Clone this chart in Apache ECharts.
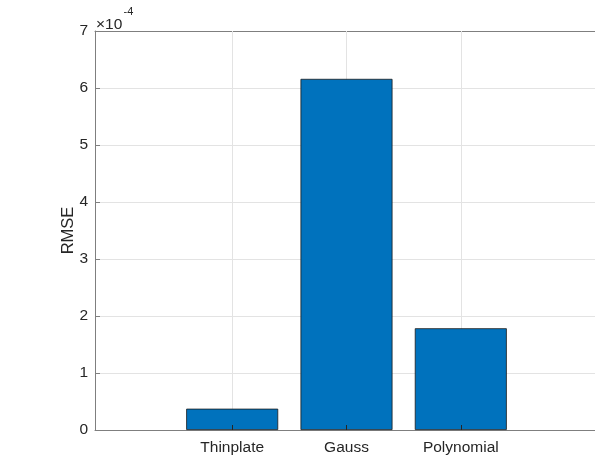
<!DOCTYPE html>
<html>
<head>
<meta charset="utf-8">
<script src="https://cdn.jsdelivr.net/npm/echarts@6/dist/echarts.min.js"></script>
<style>
html,body{margin:0;padding:0;background:#fff;}
#c{width:595px;height:455px;}
</style>
</head>
<body>
<div id="c"></div>
<script>
// Data
var categories = ['Thinplate', 'Gauss', 'Polynomial'];
var rmse = [0.374e-4, 6.16e-4, 1.785e-4];
var yTicks = [0, 1, 2, 3, 4, 5, 6, 7]; // in units of 1e-4
var yScale = 1e-4;

var positions = categories.map(function (c, i) { return i + 1; });
var barData = categories.map(function (c, i) { return [positions[i], rmse[i]]; });

var FONT = 'Arial, "Liberation Sans", Helvetica, sans-serif';
var TXT = '#262626';
var AX = '#7f7f7f';
var GRID = '#e3e3e3';

var chart = echarts.init(document.getElementById('c'), null, {renderer: 'canvas'});
chart.setOption({
  animation: false,
  backgroundColor: '#fff',
  grid: {left: 95, right: -3, top: 31, bottom: 25, outerBoundsMode: 'none', containLabel: false},
  xAxis: [{
    type: 'value',
    min: -0.2,
    max: 4.2,
    axisLine: {show: true, onZero: false, lineStyle: {color: AX, width: 1}},
    axisTick: {show: false},
    axisLabel: {
      customValues: positions,
      color: TXT, fontFamily: FONT, fontSize: 15.5, margin: 10,
      formatter: function (v) { var i = Math.round(v) - 1; return categories[i] !== undefined && Math.abs(v - Math.round(v)) < 1e-6 ? categories[i] : ''; }
    },
    splitLine: {show: false}
  }, {
    type: 'value',
    min: -0.2,
    max: 4.2,
    position: 'bottom',
    z: 10,
    axisLine: {show: false, onZero: false},
    axisLabel: {show: false},
    axisTick: {show: true, customValues: positions, inside: true, length: 5, lineStyle: {color: '#262626', width: 1}},
    splitLine: {show: false}
  }, {
    type: 'value',
    min: -0.2,
    max: 4.2,
    position: 'top',
    axisLine: {show: true, onZero: false, lineStyle: {color: AX, width: 1}},
    axisLabel: {show: false},
    axisTick: {show: false},
    splitLine: {show: false}
  }],
  yAxis: {
    type: 'value',
    min: yTicks[0] * yScale,
    max: yTicks[yTicks.length - 1] * yScale,
    interval: yScale,
    name: 'RMSE',
    nameLocation: 'middle',
    nameGap: 18.5,
    nameMoveOverlap: false,
    nameTextStyle: {color: TXT, fontFamily: FONT, fontSize: 16.5},
    axisLine: {show: true, onZero: false, lineStyle: {color: AX, width: 1}},
    axisTick: {show: true, inside: true, length: 5, lineStyle: {color: AX}},
    axisLabel: {color: TXT, fontFamily: FONT, fontSize: 15.5, margin: 7,
      formatter: function (v) { return String(Math.round(v / yScale)); }},
    splitLine: {show: true, lineStyle: {color: GRID, width: 1}}
  },
  graphic: [
    {type: 'text', x: 96, y: 25, z: 20, style: {text: '×10', font: '15.5px ' + FONT, fill: TXT, verticalAlign: 'middle', align: 'left'}},
    {type: 'text', x: 123.5, y: 12, z: 20, style: {text: '-4', font: '11px ' + FONT, fill: TXT, verticalAlign: 'middle', align: 'left'}}
  ],
  series: [{
    type: 'line',
    data: positions.map(function (p) { return [p, 0]; }),
    symbol: 'none',
    lineStyle: {opacity: 0},
    silent: true,
    z: 1,
    markLine: {
      silent: true,
      symbol: 'none',
      label: {show: false},
      lineStyle: {color: GRID, width: 1, type: 'solid'},
      data: positions.map(function (p) { return {xAxis: p}; })
    }
  }, {
    type: 'bar',
    data: barData,
    barWidth: 92,
    z: 5,
    itemStyle: {color: '#0072BD', borderColor: '#1a1a1a', borderWidth: 0.8}
  }]
});
</script>
</body>
</html>
